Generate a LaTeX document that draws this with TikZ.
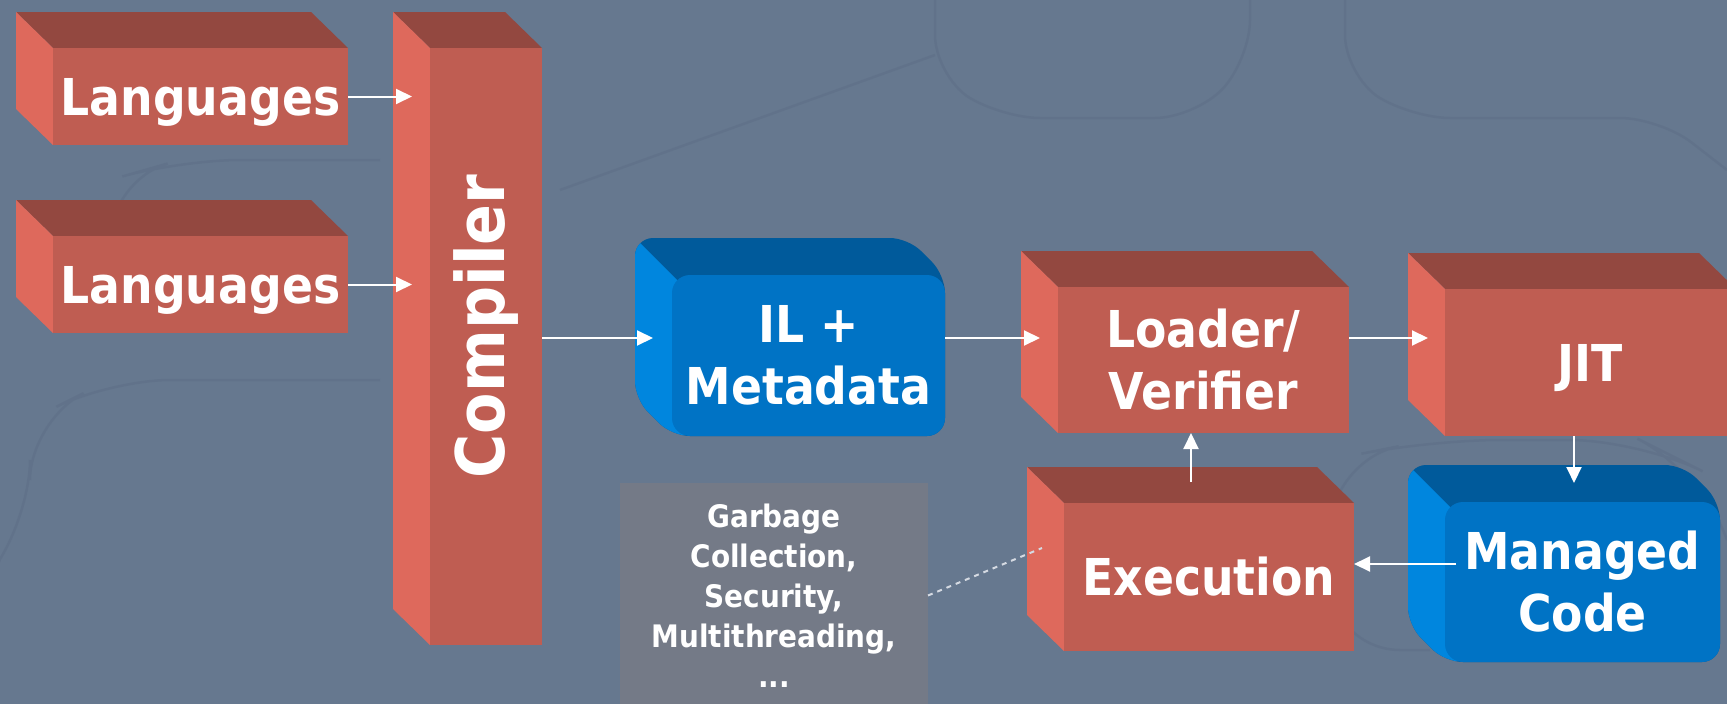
\documentclass[tikz,border=0pt]{standalone}
\usepackage{fontspec}
\setmainfont{DejaVu Sans}[FakeStretch=0.9]
\usetikzlibrary{arrows.meta,calc}
\pgfdeclarelayer{bglayer}
\pgfdeclarelayer{back}
\pgfsetlayers{bglayer,back,main}
\definecolor{bgc}{HTML}{66788F}
\definecolor{bgline}{HTML}{5E6F87}
\definecolor{redfront}{HTML}{BF5D52}
\definecolor{redleft}{HTML}{DE695C}
\definecolor{redtop}{HTML}{934840}
\definecolor{bluefront}{HTML}{0073C5}
\definecolor{bluetop}{HTML}{005A9B}
\definecolor{blueleft}{HTML}{0086DE}
\definecolor{graybox}{HTML}{747A87}
\definecolor{dashc}{HTML}{D5DAE2}
\newcommand\bigfont{\fontsize{50.8pt}{62pt}\selectfont\bfseries}
\newcommand\compfont{\fontsize{67pt}{80pt}\selectfont\bfseries}
\newcommand\smallfont{\fontsize{31pt}{40pt}\selectfont\bfseries}
\newcommand\redfaces[1]{%
  \begin{pgfonlayer}{back}
    \fill[redtop] (#1.north west) -- ($(#1.north west)+(-37,-36)$) -- ($(#1.north east)+(-37,-36)$) -- (#1.north east) -- cycle;
    \fill[redleft] (#1.north west) -- ($(#1.north west)+(-37,-36)$) -- ($(#1.south west)+(-37,-36)$) -- (#1.south west) -- cycle;
  \end{pgfonlayer}}
\newcommand\bluefaces[1]{%
  \begin{pgfonlayer}{back}
    \begin{scope}
      \clip[rounded corners=18pt] ($(#1.north west)+(-37,-37)$) -- ($(#1.north east)+(-37,-37)$) -- (#1.north east) -- (#1.south east) -- (#1.south west) -- ($(#1.south west)+(-37,-37)$) -- cycle;
      \fill[bluetop] ($(#1.north west)+(-60,-60)$) rectangle ($(#1.south east)+(10,10)$);
      \fill[blueleft] ($(#1.north west)+(-60,-60)$) -- ($(#1.north west)+(12,12)$) -- ($(#1.south west)+(12,40)$) -- ($(#1.south west)+(-80,40)$) -- cycle;
    \end{scope}
  \end{pgfonlayer}}
\tikzset{
  redbox/.style={fill=redfront, inner sep=0pt, outer sep=0pt, text=white, font=\bigfont, align=center},
  bluebox/.style={fill=bluefront, rounded corners=18pt, inner sep=0pt, outer sep=0pt, text=white, font=\bigfont, align=center},
  oneline/.style={text height=37pt, text depth=0pt},
  gcbox/.style={fill=graybox, inner sep=0pt, outer sep=0pt, text=white, font=\smallfont, align=center},
  arr/.style={draw=white, line width=2pt, -{Triangle[length=16pt,width=15pt]}},
  dashlink/.style={draw=dashc, line width=2pt, dash pattern=on 5pt off 5pt},
  bgcurve/.style={draw=bgline, line width=2.5pt, opacity=0.6}
}
\begin{document}
\begin{tikzpicture}[x=1pt,y=-1pt]
\useasboundingbox (0,0) rectangle (1727,704);
\clip (0,0) rectangle (1727,704);
\begin{pgfonlayer}{bglayer}
\fill[bgc] (0,0) rectangle (1727,704);
% faint background texture
\draw[bgcurve, rounded corners=40pt] (935,0) -- (935,75) -- (1000,118) -- (1195,118) -- (1250,60) -- (1250,0);
\draw[bgcurve, rounded corners=40pt] (1345,0) -- (1345,75) -- (1410,118) -- (1660,118) -- (1727,170);
\draw[bgcurve] (560,190) -- (935,55);
\draw[bgcurve, rounded corners=60pt] (0,560) -- (30,520) -- (30,420) -- (110,380) -- (380,380);
\draw[bgcurve, rounded corners=60pt] (110,220) -- (110,180) -- (180,160) -- (380,160);
\draw[bgcurve, rounded corners=70pt] (1430,650) -- (1330,650) -- (1330,460) -- (1430,440) -- (1640,440) -- (1700,470) -- (1727,540);
\end{pgfonlayer}

% nodes
\node[redbox, oneline, minimum width=295pt, minimum height=97pt] (lang1) at (200.5,96.5) {Languages};
\node[redbox, oneline, minimum width=295pt, minimum height=97pt] (lang2) at (200.5,284.5) {Languages};
\node[redbox, minimum width=112pt, minimum height=597pt] (comp) at (486,346.5) {\rotatebox{90}{\compfont\hspace*{40pt}Compiler}};
\node[bluebox, minimum width=273pt, minimum height=161pt] (il) at (808.5,355.5) {IL +\\Metadata};
\node[redbox, minimum width=291pt, minimum height=146pt] (loader) at (1203.5,360) {Loader/\\Verifier};
\node[redbox, oneline, minimum width=291pt, minimum height=147pt] (jit) at (1590.5,362.5) {JIT};
\node[redbox, oneline, minimum width=290pt, minimum height=148pt] (exec) at (1209,577) {Execution};
\node[bluebox, minimum width=275pt, minimum height=160pt] (managed) at (1582.5,582) {Managed\\Code};
\node[gcbox, minimum width=308pt, minimum height=225pt, anchor=north west] (gc) at (620,483) {Garbage\\Collection,\\Security,\\Multithreading,\\...};

\redfaces{lang1}
\redfaces{lang2}
\redfaces{comp}
\redfaces{loader}
\redfaces{jit}
\redfaces{exec}
\bluefaces{il}
\bluefaces{managed}

% helper coordinates
\coordinate (row) at (0,338);
\coordinate (mx) at (1574,0);
\coordinate (ey) at (0,564);
\coordinate (ux) at (1191,0);
\coordinate (dend) at ($(exec.north west)+(-22,45)$);

% connectors
\draw[arr, shorten >=18pt] (lang1.east) -- (lang1.east -| comp.west);
\draw[arr, shorten >=18pt] (lang2.east) -- (lang2.east -| comp.west);
\draw[arr, shorten >=19pt] (comp.east |- row) -- (il.west |- row);
\draw[arr, shorten >=18pt] (il.east |- row) -- (loader.west |- row);
\draw[arr, shorten >=17pt] (loader.east |- row) -- (jit.west |- row);
\draw[arr, shorten >=19pt] (jit.south -| mx) -- (managed.north -| mx);
\draw[arr, shorten <=-11pt] (managed.west |- ey) -- (exec.east |- ey);
\draw[arr, shorten <=21pt] (exec.north -| ux) -- (loader.south -| ux);
\draw[dashlink] (gc.east) -- (dend);
\end{tikzpicture}
\end{document}
